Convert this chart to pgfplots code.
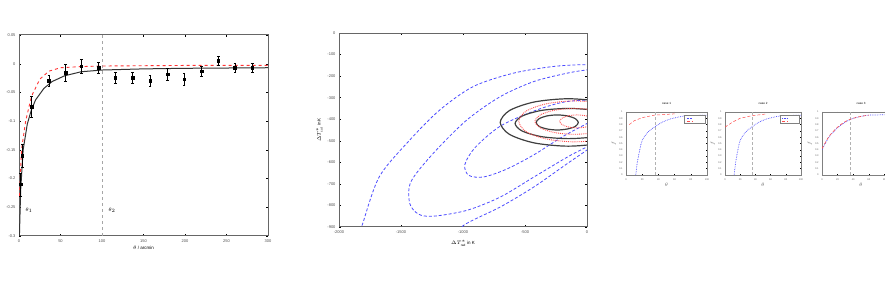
\documentclass[border=0pt]{standalone}
\usepackage{fontspec}
\setmainfont{Liberation Sans}
\usepackage{pgfplots}
\pgfplotsset{compat=1.18}
\pgfplotsset{
  every axis/.append style={
    scale only axis, anchor=south west,
    /pgf/number format/assume math mode=true,
    /pgf/number format/set thousands separator={},
    axis line style={gray!80!black, line width=1pt},
    tick style={black, line width=0.4pt},
    tick align=inside,
    major tick length=2pt,
    tick label style={font=\fontsize{4}{4}\selectfont, text=black!70},
    label style={font=\fontsize{4.5}{5}\selectfont},
  },
  small/.style={
    axis line style={gray, line width=0.5pt},
    major tick length=1pt,
    tick label style={font=\fontsize{2.5}{2.5}\selectfont, text=black!60},
    label style={font=\fontsize{2.5}{2.5}\selectfont, text=black!60},
    title style={font=\fontsize{3}{3}\selectfont, yshift=-2pt},
    xmin=0, xmax=1, ymin=0, ymax=1,
    xtick={0,0.2,...,1}, ytick={0,0.1,...,1},
    xticklabels={0,20,40,60,80,100}, yticklabels={0,0.1,0.2,0.3,0.4,0.5,0.6,0.7,0.8,0.9,1},
    xlabel={$\theta$}, ylabel={$f$},
    xlabel style={yshift=4pt}, ylabel style={yshift=-4pt},
  }
}
\begin{document}
\begin{tikzpicture}
\useasboundingbox (0,0) rectangle (885pt,288pt);
% ---------------- Panel 1
\begin{axis}[at={(19pt,52pt)}, width=249pt, height=201pt,
  xmin=0, xmax=300, ymin=-0.3, ymax=0.05,
  xtick={0,50,...,300}, ytick={-0.3,-0.25,...,0.05},
  yticklabel style={/pgf/number format/fixed},
  xlabel={$\theta$ / arcmin}, xlabel style={yshift=3pt}]
\addplot[gray!70, dashed, thin] coordinates {(100,-0.3) (100,0.05)};
\addplot[black!80, line width=1pt] coordinates {
 (0.5,-0.3) (2,-0.22) (5,-0.15) (10,-0.105) (15,-0.08) (20,-0.063) (30,-0.043) (40,-0.031)
 (55,-0.021) (75,-0.014) (100,-0.011) (150,-0.009) (200,-0.008) (300,-0.007)};
\addplot[red!80, dashed, line width=0.9pt] coordinates {
 (0.5,-0.23) (3,-0.15) (8,-0.1) (15,-0.057) (25,-0.027) (36,-0.013) (50,-0.007) (75,-0.005)
 (100,-0.004) (200,-0.003) (300,-0.003)};
\addplot[black, only marks, mark=square*, mark size=1.3pt,
  error bars/.cd, y dir=both, y explicit, error bar style={black, line width=0.6pt}, error mark options={rotate=90, mark size=1.3pt}]
 coordinates {
 (2,-0.21) +- (0,0.02) (4,-0.16) +- (0,0.02) (15,-0.075) +- (0,0.018) (36,-0.03) +- (0,0.01)
 (56,-0.016) +- (0,0.015) (75,-0.004) +- (0,0.012) (96,-0.007) +- (0,0.01) (116,-0.024) +- (0,0.01)
 (137,-0.024) +- (0,0.01) (158,-0.030) +- (0,0.01) (179,-0.018) +- (0,0.01) (199,-0.027) +- (0,0.01)
 (220,-0.013) +- (0,0.008) (240,0.005) +- (0,0.008) (260,-0.007) +- (0,0.008) (281,-0.007) +- (0,0.008)};
\node[font=\fontsize{4.5}{5}\selectfont] at (axis cs:12,-0.255) {$\theta_1$};
\node[font=\fontsize{4.5}{5}\selectfont] at (axis cs:112,-0.255) {$\theta_2$};
\end{axis}
% ---------------- Panel 2
\begin{axis}[at={(339pt,61pt)}, width=248pt, height=194pt,
  xmin=-2000, xmax=0, ymin=-900, ymax=0,
  xtick={-2000,-1500,...,0}, ytick={-900,-800,...,0},
  scaled ticks=false,
  xlabel={$\Delta T^{*}_{\rm rad}$ in K}, ylabel={$\Delta T^{*}_{\rm cut}$ in K},
  xlabel style={yshift=0pt}, ylabel style={yshift=-2pt}]
\pgfplotsset{blu/.style={blue!70, densely dashed, line width=0.8pt, smooth}}
\addplot[blu] coordinates {(-1850,-960) (-1810,-886) (-1675,-667) (-1430,-497) (-1187,-357)
  (-916,-248) (-591,-186) (-266,-155) (0,-148) (200,-170)};
\addplot[blu] coordinates {(-1060,-960) (-997,-893) (-699,-807) (-428,-714) (-157,-605) (0,-543) (100,-500)};
\addplot[blu] coordinates {(100,-165) (0,-171) (-157,-186) (-428,-225) (-699,-295) (-970,-404)
  (-1241,-559) (-1420,-690) (-1430,-790) (-1360,-840) (-1241,-850) (-970,-823) (-699,-761)
  (-428,-668) (-157,-575) (0,-528) (100,-495)};
\addplot[blu] coordinates {(100,-330) (0,-312) (-200,-322) (-428,-362) (-699,-432) (-900,-530)
  (-985,-610) (-955,-660) (-835,-668) (-650,-632) (-428,-565) (-200,-482) (0,-420) (100,-390)};
\pgfplotsset{blk/.style={black!75, line width=1.2pt, smooth cycle}}
\addplot[blk] coordinates {(400,-415) (326,-360) (125,-320) (-150,-305) (-425,-320) (-626,-360)
  (-700,-415) (-626,-470) (-425,-510) (-150,-525) (125,-510) (326,-470)};
\addplot[blk] coordinates {(280,-420) (222,-385) (65,-359) (-150,-350) (-365,-359) (-522,-385)
  (-580,-420) (-522,-455) (-365,-481) (-150,-490) (65,-481) (222,-455)};
\addplot[blk] coordinates {(-70,-415) (-93,-398) (-155,-385) (-240,-380) (-325,-385) (-387,-398)
  (-410,-415) (-387,-433) (-325,-445) (-240,-450) (-155,-445) (-93,-433)};
\pgfplotsset{rd/.style={red!70, densely dotted, line width=0.9pt, smooth cycle}}
\addplot[rd] coordinates {(350,-410) (290,-362) (125,-328) (-100,-315) (-325,-328) (-490,-362)
  (-550,-410) (-490,-458) (-325,-492) (-100,-505) (125,-492) (290,-458)};
\addplot[rd] coordinates {(220,-410) (177,-380) (60,-358) (-100,-350) (-260,-358) (-377,-380)
  (-420,-410) (-377,-440) (-260,-462) (-100,-470) (60,-462) (177,-440)};
\addplot[rd] coordinates {(60,-410) (41,-395) (-10,-384) (-80,-380) (-150,-384) (-201,-395)
  (-220,-410) (-201,-425) (-150,-436) (-80,-440) (-10,-436) (41,-425)};
\end{axis}
% ---------------- Small panels
\begin{axis}[small, at={(626pt,113pt)}, width=81pt, height=63pt, title={case 1}]
\addplot[gray!60, densely dashed, thin] coordinates {(0.36,0) (0.36,1)};
\addplot[blue!70, densely dotted, line width=0.7pt, smooth] coordinates {(0.12,0) (0.14,0.2) (0.17,0.4) (0.2,0.55)
  (0.27,0.68) (0.35,0.76) (0.45,0.84) (0.55,0.89) (0.65,0.92) (0.75,0.94) (1,0.95)};
\addplot[red!70, densely dashed, line width=0.5pt] coordinates {(0.04,0.8) (0.1,0.86) (0.2,0.91) (0.35,0.95) (0.6,0.97)};
\draw[gray, line width=0.2pt, fill=white] (axis cs:0.72,0.82) rectangle (axis cs:0.98,0.95);
\addplot[blue!70, densely dotted, line width=0.5pt] coordinates {(0.75,0.9) (0.82,0.9)};
\addplot[red!70, densely dashed, line width=0.4pt] coordinates {(0.75,0.86) (0.82,0.86)};
\end{axis}
\begin{axis}[small, at={(725pt,113pt)}, width=76pt, height=63pt, title={case 2}]
\addplot[gray!60, densely dashed, thin] coordinates {(0.36,0) (0.36,1)};
\addplot[blue!70, densely dotted, line width=0.7pt, smooth] coordinates {(0.12,0) (0.14,0.2) (0.17,0.4) (0.2,0.55)
  (0.27,0.68) (0.35,0.76) (0.45,0.84) (0.55,0.89) (0.65,0.92) (0.75,0.94) (1,0.95)};
\addplot[red!70, densely dashed, line width=0.5pt] coordinates {(0.0,0.76) (0.1,0.84) (0.2,0.9) (0.35,0.94) (0.55,0.97)};
\draw[gray, line width=0.2pt, fill=white] (axis cs:0.72,0.82) rectangle (axis cs:0.98,0.95);
\addplot[blue!70, densely dotted, line width=0.5pt] coordinates {(0.75,0.9) (0.82,0.9)};
\addplot[red!70, densely dashed, line width=0.4pt] coordinates {(0.75,0.86) (0.82,0.86)};
\end{axis}
\begin{axis}[small, at={(822pt,113pt)}, width=78pt, height=63pt, title={case 3},
  xtick={0,0.2,...,0.8}, xticklabels={0,20,40,60,80}]
\addplot[gray!60, densely dashed, thin] coordinates {(0.36,0) (0.36,1)};
\addplot[blue!70, densely dotted, line width=0.7pt, smooth] coordinates {(0,0.4) (0.05,0.52) (0.1,0.62) (0.2,0.75)
  (0.3,0.84) (0.4,0.9) (0.5,0.93) (0.6,0.95) (1,0.96)};
\addplot[red!70, densely dashed, line width=0.6pt, smooth] coordinates {(0,0.42) (0.05,0.53) (0.1,0.63) (0.2,0.76)
  (0.3,0.85) (0.4,0.9) (0.5,0.93) (0.6,0.95)};
\end{axis}
\end{tikzpicture}
\end{document}
